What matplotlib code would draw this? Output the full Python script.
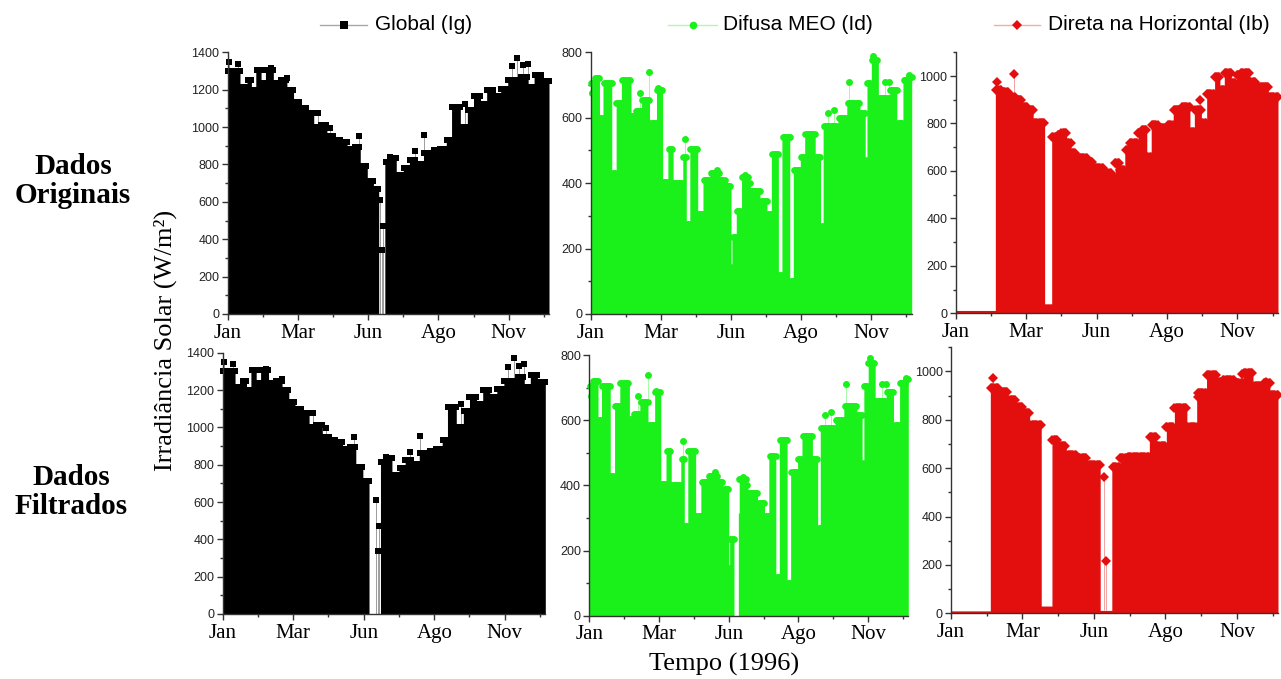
import matplotlib
matplotlib.use("Agg")
import matplotlib.pyplot as plt
import numpy as np
from matplotlib.lines import Line2D

plt.rcParams['font.family'] = ['Liberation Sans', 'DejaVu Sans']

# x axis: day of year 1996
MONTH_TICKS = [0, 80, 160, 240, 320]
MONTH_LABELS = ["Jan", "Mar", "Jun", "Ago", "Nov"]
MINOR_TICKS = [40, 120, 200, 280, 360]

# Global (Ig): start day of each stretch and its daily peak level
GLOBAL_START = [0, 6, 14, 22, 27, 32, 38, 43, 52, 60, 67, 75, 82, 90, 98, 105, 113, 121, 128, 136,
                144, 151, 159, 166, 172, 179, 185, 192, 200, 207, 215, 223, 231, 242, 249, 255, 265, 273, 280, 288,
                295, 303, 311, 319, 326, 334, 342, 349, 357]
GLOBAL_TOP = [1300, 1300, 1215, 1250, 1200, 1305, 1235, 1305, 1235, 1250, 1200, 1135, 1100, 1075, 1000, 1010, 950, 930, 920, 885,
              895, 790, 710, 670, 0, 815, 835, 745, 780, 825, 805, 860, 860, 885, 930, 1110, 1000, 1090, 1165, 1125,
              1200, 1165, 1205, 1250, 1250, 1270, 1215, 1280, 1245]
GLOBAL_OUT_DAY = [2, 12, 49, 67, 103, 117, 149, 174, 176, 177, 185, 213, 224, 235, 270, 324, 330, 336, 342]
GLOBAL_OUT_VAL = [1350, 1340, 1315, 1260, 1075, 995, 950, 610, 340, 470, 840, 870, 955, 875, 1125, 1325, 1370, 1330, 1340]
GLOBAL_GAPS_FILT = [(166, 179)]

# Difusa MEO (Id)
DIFUSA_START = [0, 4, 10, 14, 24, 29, 35, 46, 50, 58, 67, 75, 82, 88, 94, 105, 109, 113, 122, 128,
                136, 147, 153, 160, 161, 166, 172, 180, 182, 193, 201, 206, 214, 218, 227, 231, 239, 244, 256, 262,
                265, 275, 282, 292, 299, 307, 313, 315, 320, 328, 341, 349, 356, 362]
DIFUSA_TOP = [705, 720, 600, 705, 430, 645, 715, 605, 620, 655, 585, 685, 405, 505, 400, 480, 275, 505, 305, 410,
              430, 410, 390, 145, 235, 315, 420, 400, 375, 345, 305, 490, 120, 540, 100, 440, 480, 550, 480, 270,
              575, 575, 600, 645, 645, 615, 470, 705, 775, 660, 685, 585, 715, 725]
DIFUSA_OUT_DAY = [2, 7, 56, 67, 77, 107, 144, 176, 226, 236, 250, 270, 277, 295, 322, 336, 340, 358, 363]
DIFUSA_OUT_VAL = [675, 720, 675, 740, 690, 535, 440, 425, 540, 440, 550, 615, 625, 710, 790, 710, 710, 715, 730]
DIFUSA_GAPS_FILT = [(166, 171)]

# Direta na Horizontal (Ib), original
DIRETA_START = [0, 45, 52, 60, 67, 75, 82, 88, 101, 109, 115, 120, 126, 131, 137, 149, 156, 167, 177, 181,
                186, 192, 198, 207, 211, 217, 222, 230, 241, 247, 256, 266, 271, 279, 285, 294, 300, 305, 313, 319,
                324, 334, 341, 355]
DIRETA_TOP = [12, 940, 933, 912, 898, 870, 856, 800, 40, 744, 751, 758, 716, 674, 653, 639, 611, 590, 576, 635,
              604, 688, 716, 758, 772, 660, 793, 779, 793, 856, 870, 765, 856, 800, 926, 997, 940, 1011, 969, 1004,
              1011, 976, 955, 912]
DIRETA_OUT_DAY = [47, 66, 277, 353]
DIRETA_OUT_VAL = [975, 1010, 898, 955]

# Direta na Horizontal (Ib), filtered
DIRETA_F_START = [0, 44, 53, 64, 73, 81, 88, 101, 113, 120, 129, 140, 152, 167, 180, 189, 198, 222, 230, 241,
                  250, 264, 275, 286, 297, 304, 317, 327, 338, 349, 357]
DIRETA_F_TOP = [10, 931, 917, 883, 855, 827, 779, 30, 717, 690, 655, 641, 614, 12, 607, 641, 648, 731, 690, 772,
                848, 770, 910, 986, 958, 965, 951, 993, 938, 951, 903]
DIRETA_F_OUT_DAY = [47, 171, 173, 276, 326, 353]
DIRETA_F_OUT_VAL = [972, 565, 215, 896, 990, 955]

BLACK = "#000000"
GREEN = "#1AF01A"
RED = "#E30E0E"
W, H = 1281, 679


def step_values(starts, tops, x):
    idx = np.searchsorted(np.array(starts), x, side='right') - 1
    return np.array(tops, dtype=float)[idx]


def draw_panel(ax, starts, tops, out_day, out_val, gaps, color, marker, ymax, ymajor):
    xg = np.arange(0, 366.01, 0.25)
    yg = step_values(starts, tops, xg)
    for a, b in gaps:
        yg[(xg >= a) & (xg < b)] = 0
    ax.fill_between(xg, 0, yg, step='post', color=color, lw=0)
    xm = np.arange(0.5, 366, 1.3)
    ym = step_values(starts, tops, xm)
    for a, b in gaps:
        ym[(xm >= a) & (xm < b)] = 0
    keep = ym > 60
    ax.plot(xm[keep], ym[keep], ls='none', marker=marker, ms=4.8, color=color, mew=0, clip_on=False)
    base = step_values(starts, tops, np.array(out_day, dtype=float))
    ax.vlines(out_day, np.minimum(base, out_val), out_val, color=color, lw=0.6, alpha=0.45)
    ax.plot(out_day, out_val, ls='none', marker=marker, ms=5, color=color, mew=0, clip_on=False)

    ax.set_xlim(0, 366)
    ax.set_ylim(0, ymax)
    ax.set_xticks(MONTH_TICKS)
    ax.set_xticklabels(MONTH_LABELS, family='Liberation Serif', fontsize=15)
    ax.set_xticks(MINOR_TICKS, minor=True)
    ax.set_yticks(np.arange(0, ymajor + 1, 200))
    ax.set_yticks(np.arange(100, ymax + 1, 200), minor=True)
    ax.tick_params(axis='y', labelsize=9, labelcolor='#222222')
    ax.tick_params(which='both', direction='out', color='#333333', width=1)
    ax.tick_params(which='major', length=4, pad=2)
    ax.tick_params(which='minor', length=2.5)
    ax.tick_params(axis='x', pad=3)
    for s in ['top', 'right']:
        ax.spines[s].set_visible(False)
    for s in ['left', 'bottom']:
        ax.spines[s].set_color('#333333')
        ax.spines[s].set_linewidth(1)


def box(left, right, top, bottom):
    return [left / W, 1 - bottom / H, (right - left) / W, (bottom - top) / H]


fig = plt.figure(figsize=(W / 100, H / 100), dpi=100)

ax1 = fig.add_axes(box(227.7, 549, 52.3, 314))
ax2 = fig.add_axes(box(590.7, 911.7, 52.3, 314))
ax3 = fig.add_axes(box(955.7, 1278, 52.3, 313.3))
ax4 = fig.add_axes(box(222.7, 545.3, 352.7, 614))
ax5 = fig.add_axes(box(589.3, 908.3, 355, 615.7))
ax6 = fig.add_axes(box(951, 1278, 347.3, 613.3))

draw_panel(ax1, GLOBAL_START, GLOBAL_TOP, GLOBAL_OUT_DAY, GLOBAL_OUT_VAL, [], BLACK, 's', 1400, 1400)
draw_panel(ax2, DIFUSA_START, DIFUSA_TOP, DIFUSA_OUT_DAY, DIFUSA_OUT_VAL, [], GREEN, 'o', 800, 800)
draw_panel(ax3, DIRETA_START, DIRETA_TOP, DIRETA_OUT_DAY, DIRETA_OUT_VAL, [], RED, 'D', 1100, 1000)
draw_panel(ax4, GLOBAL_START, GLOBAL_TOP, GLOBAL_OUT_DAY, GLOBAL_OUT_VAL, GLOBAL_GAPS_FILT, BLACK, 's', 1400, 1400)
draw_panel(ax5, DIFUSA_START, DIFUSA_TOP, DIFUSA_OUT_DAY, DIFUSA_OUT_VAL, DIFUSA_GAPS_FILT, GREEN, 'o', 800, 800)
draw_panel(ax6, DIRETA_F_START, DIRETA_F_TOP, DIRETA_F_OUT_DAY, DIRETA_F_OUT_VAL, [], RED, 'D', 1100, 1000)

# legend entries along the top
legend_items = [("Global (Ig)", BLACK, 's', 320, 367, 375),
                ("Difusa MEO (Id)", GREEN, 'o', 668, 717, 723),
                ("Direta na Horizontal (Ib)", RED, 'D', 994, 1040, 1048)]
ly = 1 - 25 / H
for label, color, marker, x0, x1, xt in legend_items:
    fig.add_artist(Line2D([x0 / W, x1 / W], [ly, ly], transform=fig.transFigure, color=color, alpha=0.35, lw=1))
    fig.add_artist(Line2D([(x0 + x1) / 2 / W], [ly], transform=fig.transFigure, color=color,
                          marker=marker, ms=5.5, mew=0, ls='none'))
    fig.text(xt / W, ly, label, fontsize=15, va='center', ha='left')

# row labels and axis titles
fig.text(73 / W, 1 - 181 / H, "Dados\nOriginais", family='Liberation Serif', fontweight='bold',
         fontsize=21, ha='center', va='center', linespacing=1.12)
fig.text(71 / W, 1 - 492 / H, "Dados\nFiltrados", family='Liberation Serif', fontweight='bold',
         fontsize=21, ha='center', va='center', linespacing=1.12)
fig.text(165 / W, 1 - 340 / H, "Irradiância Solar (W/m²)", family='Liberation Serif', fontsize=19,
         rotation=90, ha='center', va='center')
fig.text(724 / W, 1 - 664 / H, "Tempo (1996)", family='Liberation Serif', fontsize=19,
         ha='center', va='center')

fig.savefig("out.png", dpi=100)
